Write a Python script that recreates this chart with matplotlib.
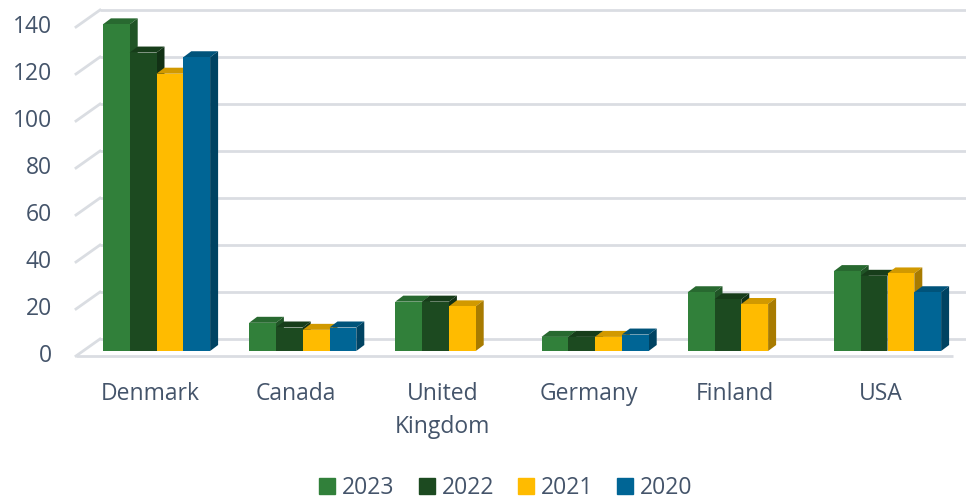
import matplotlib
matplotlib.use('Agg')
import matplotlib.pyplot as plt
from matplotlib.patches import Polygon, Patch
from matplotlib.colors import to_rgb

plt.rcParams['font.family'] = ['Open Sans', 'DejaVu Sans']

# data
countries = ['Denmark', 'Canada', 'United\nKingdom', 'Germany', 'Finland', 'USA']
years = ['2023', '2022', '2021', '2020']
v2023 = [139, 12, 21, 6, 25, 34]
v2022 = [127, 10, 21, 6, 22, 32]
v2021 = [118, 9, 19, 6, 20, 33]
v2020 = [125, 10, 0, 7, 0, 25]
ticks = [0, 20, 40, 60, 80, 100, 120, 140]

series = [v2023, v2022, v2021, v2020]
colors = ['#31803A', '#1C4A20', '#FFBB00', '#006595']
txt = '#44546A'
grid_c = '#DADDE2'
fs = 16.5

# layout in pixels
W, H = 966, 499
X0, DX = 156.5, 146.2   # first group centre, px per category
Y0, PPU = 351, 2.35     # baseline of bar fronts, px per unit


def sx(p):
    return p / DX


def sy(p):
    return p / PPU


def shade(c, f):
    r, g, b = to_rgb(c)
    return (r * f, g * f, b * f)


fig = plt.figure(figsize=(W / 100, H / 100), dpi=100)
ax = fig.add_axes([0, 0, 1, 1])
ax.set_xlim(-X0 / DX, (W - X0) / DX)
ax.set_ylim((Y0 - H) / PPU, Y0 / PPU)
ax.axis('off')

# back wall / side wall / floor
wall_dy = sy(12)
floor_dy = sy(-5)
x_wall = sx(100 - X0)
x_floor = sx(76 - X0)
x_right = sx(W - X0)
x_floor_r = sx(953 - X0)
for t in ticks:
    ax.plot([x_wall, x_right], [t + wall_dy, t + wall_dy], color=grid_c, lw=2,
            solid_capstyle='butt', zorder=1)
    ax.plot([x_floor, x_wall], [t + floor_dy, t + wall_dy], color=grid_c, lw=2,
            zorder=1)
    ax.text(sx(52 - X0), t + floor_dy, str(t), ha='right', va='center',
            fontsize=fs, color=txt)
ax.plot([x_floor, x_floor_r], [floor_dy, floor_dy], color=grid_c, lw=2,
        solid_capstyle='butt', zorder=1)

# bars with a little depth
bw = sx(26.8)
bdx, bdy = sx(8), sy(6)
n = len(countries)
for k, (vals, c) in enumerate(zip(series, colors)):
    xs = [i - 2 * bw + k * bw for i in range(n)]
    bars = ax.bar(xs, vals, bw, align='edge', color=c, linewidth=0)
    for i, (b, xl, v) in enumerate(zip(bars, xs, vals)):
        z = 3 + i * 20 + k * 4
        b.set_zorder(z + 2)
        if v == 0:
            continue
        top = Polygon([(xl, v), (xl + bdx, v + bdy), (xl + bw + bdx, v + bdy),
                       (xl + bw, v)], closed=True, color=shade(c, 0.82),
                      lw=0, zorder=z)
        side = Polygon([(xl + bw, 0), (xl + bw, v), (xl + bw + bdx, v + bdy),
                        (xl + bw + bdx, bdy)], closed=True, color=shade(c, 0.66),
                       lw=0, zorder=z + 1)
        ax.add_patch(top)
        ax.add_patch(side)

for i, name in enumerate(countries):
    ax.text(i + sx(-6.5), sy(-31), name, ha='center', va='top', fontsize=fs,
            color=txt, linespacing=1.5)

handles = [Patch(color=c) for c in colors]
fig.legend(handles, years, loc='center', bbox_to_anchor=(506 / W, 1 - 488 / H),
           ncol=4, frameon=False, fontsize=fs, labelcolor=txt,
           handlelength=0.7, handleheight=0.7, handletextpad=0.3,
           columnspacing=1.05, borderaxespad=0)

fig.savefig('out.png', dpi=100)
